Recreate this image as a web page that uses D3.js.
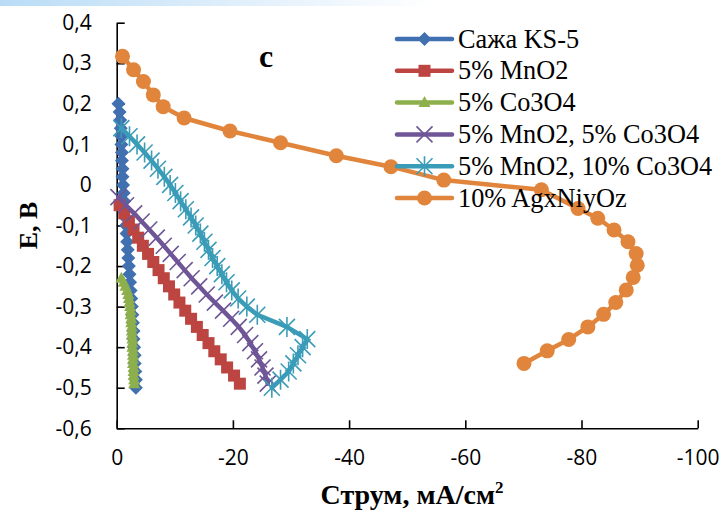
<!DOCTYPE html>
<html>
<head>
<meta charset="utf-8">
<script src="https://cdn.jsdelivr.net/npm/d3@7"></script>
<style>
  body { margin: 0; background: #fff; }
  svg { display: block; }
</style>
</head>
<body>
<div id="chart"></div>
<script>
// series values: current (mA/cm2) and potential (V)
const ks5I = [-0.3,-0.5,-0.6,-0.7,-0.8,-0.8,-0.9,-0.9,-1.0,-1.0,-1.1,-1.2,-1.3,-1.4,-1.5,-1.6,-1.7,-1.8,-1.9,-2.0,-2.1,-2.2,-2.3,-2.4,-2.5,-2.6,-2.7,-2.8,-2.9,-2.9,-3.0,-3.1,-3.1,-3.2,-3.3,-3.3];
const ks5E = [0.20,0.18,0.16,0.14,0.12,0.10,0.08,0.06,0.04,0.02,0.00,-0.02,-0.04,-0.06,-0.08,-0.10,-0.12,-0.14,-0.16,-0.18,-0.20,-0.22,-0.24,-0.26,-0.28,-0.30,-0.32,-0.34,-0.36,-0.38,-0.40,-0.42,-0.44,-0.46,-0.48,-0.50];

const mnI = [-0.5,-1.3,-2.1,-2.9,-3.7,-4.5,-5.4,-6.3,-7.2,-8.1,-9.0,-9.9,-10.8,-11.8,-12.8,-13.8,-14.8,-15.8,-16.8,-17.9,-19.0,-20.2,-21.2];
const mnE = [-0.05,-0.07,-0.09,-0.11,-0.13,-0.15,-0.17,-0.19,-0.21,-0.23,-0.25,-0.27,-0.29,-0.31,-0.33,-0.35,-0.37,-0.39,-0.41,-0.43,-0.45,-0.47,-0.49];

const coI = [-0.8,-1.2,-1.5,-1.8,-2.0,-2.1,-2.2,-2.3,-2.4,-2.4,-2.5,-2.5,-2.6,-2.6,-2.6,-2.7,-2.7,-2.7,-2.8,-2.8,-2.8,-2.8,-2.9,-2.9,-2.9,-3.0,-3.0];
const coE = [-0.23,-0.24,-0.25,-0.26,-0.27,-0.28,-0.29,-0.30,-0.31,-0.32,-0.33,-0.34,-0.35,-0.36,-0.37,-0.38,-0.39,-0.40,-0.41,-0.42,-0.43,-0.44,-0.45,-0.46,-0.47,-0.48,-0.49];

const mnCo5I = [-0.3,-1.6,-3.0,-4.3,-5.6,-6.9,-8.1,-9.3,-10.5,-11.7,-12.9,-14.2,-15.5,-16.9,-18.3,-19.7,-21.0,-22.1,-23.0,-23.8,-24.5,-25.1,-25.6,-26.0];
const mnCo5E = [-0.03,-0.05,-0.07,-0.09,-0.11,-0.13,-0.15,-0.17,-0.19,-0.21,-0.23,-0.25,-0.27,-0.29,-0.31,-0.33,-0.35,-0.37,-0.39,-0.41,-0.43,-0.45,-0.47,-0.49];

const mnCo10I = [-0.8,-2.2,-3.5,-4.8,-6.0,-7.1,-8.2,-9.2,-10.1,-11.0,-11.9,-12.8,-13.6,-14.4,-15.1,-15.8,-16.5,-17.3,-18.1,-18.9,-19.8,-20.9,-22.4,-24.2,-29.3,-32.8,-32.0,-31.2,-30.4,-29.6,-28.2,-26.7];
const mnCo10E = [0.14,0.12,0.10,0.08,0.06,0.04,0.02,0.00,-0.02,-0.04,-0.06,-0.08,-0.10,-0.12,-0.14,-0.16,-0.18,-0.20,-0.22,-0.24,-0.26,-0.28,-0.30,-0.32,-0.35,-0.38,-0.40,-0.42,-0.44,-0.46,-0.48,-0.50];

const agI = [-1.0,-2.9,-4.6,-6.3,-8.0,-11.6,-19.5,-28.2,-37.8,-47.2,-56.3,-73.1,-79.4,-82.8,-85.6,-88.0,-89.4,-89.6,-88.9,-87.7,-85.9,-83.8,-81.1,-77.8,-74.1,-70.1];
const agE = [0.317,0.284,0.255,0.222,0.193,0.165,0.133,0.104,0.072,0.045,0.012,-0.012,-0.058,-0.082,-0.111,-0.14,-0.169,-0.198,-0.228,-0.259,-0.29,-0.319,-0.35,-0.381,-0.409,-0.44];

const seriesNames = ["Сажа KS-5", "5% MnO2", "5% Co3O4", "5% MnO2, 5% Co3O4", "5% MnO2, 10% Co3O4", "10% AgxNiyOz"];
const xTicks = [0, -20, -40, -60, -80, -100];
const yTicks = [0.4, 0.3, 0.2, 0.1, 0, -0.1, -0.2, -0.3, -0.4, -0.5, -0.6];

const W = 725, H = 516;
const MARGIN = { LEFT: 116.7, RIGHT: 27.3, TOP: 22.7, BOTTOM: 87.7 };

const series = [
  { name: seriesNames[0], I: ks5I, E: ks5E, color: "#4170B0", marker: "diamond" },
  { name: seriesNames[1], I: mnI, E: mnE, color: "#BC4541", marker: "square" },
  { name: seriesNames[2], I: coI, E: coE, color: "#8DAF4C", marker: "triangle" },
  { name: seriesNames[3], I: mnCo5I, E: mnCo5E, color: "#6F5697", marker: "x" },
  { name: seriesNames[4], I: mnCo10I, E: mnCo10E, color: "#3B9CB8", marker: "star" },
  { name: seriesNames[5], I: agI, E: agE, color: "#E0853B", marker: "circle" }
];

const svg = d3.select("#chart").append("svg")
  .attr("width", W).attr("height", H);

svg.append("rect").attr("width", W).attr("height", H).attr("fill", "#fff");

// pale blue band at the very top
const grad = svg.append("defs").append("linearGradient").attr("id", "topband");
grad.append("stop").attr("offset", "0%").attr("stop-color", "#b9dcf6");
grad.append("stop").attr("offset", "45%").attr("stop-color", "#eef6fd");
grad.append("stop").attr("offset", "60%").attr("stop-color", "#ffffff");
svg.append("rect").attr("x", 0).attr("y", 0).attr("width", W).attr("height", 6)
  .attr("fill", "url(#topband)");

const x = d3.scaleLinear().domain([0, -100]).range([MARGIN.LEFT, W - MARGIN.RIGHT]);
const y = d3.scaleLinear().domain([-0.6, 0.4]).range([H - MARGIN.BOTTOM, MARGIN.TOP]);

const fmt = d => d === 0 ? "0" : (Number.isInteger(d) ? String(d) : d.toFixed(1).replace(".", ","));

// axes (ticks pointing inward)
const xAxis = d3.axisBottom(x).tickValues(xTicks).tickSizeInner(-8).tickSizeOuter(0)
  .tickPadding(22).tickFormat(fmt);
const yAxis = d3.axisLeft(y).tickValues(yTicks).tickSizeInner(-8).tickSizeOuter(0)
  .tickPadding(25).tickFormat(fmt);

const gx = svg.append("g").attr("transform", `translate(0,${H - MARGIN.BOTTOM})`).call(xAxis);
const gy = svg.append("g").attr("transform", `translate(${MARGIN.LEFT},0)`).call(yAxis);

[gx, gy].forEach(g => {
  g.selectAll("path, line").attr("stroke", "#000").attr("stroke-width", 1.6);
  g.selectAll("text").attr("font-family", "'Open Sans', sans-serif").attr("font-size", 21).attr("fill", "#000");
});

// marker drawing
function drawMarker(sel, type, color) {
  if (type === "diamond") {
    sel.append("path").attr("d", "M0,-7L7,0L0,7L-7,0Z").attr("fill", color);
  } else if (type === "square") {
    sel.append("rect").attr("x", -6).attr("y", -6).attr("width", 12).attr("height", 12).attr("fill", color);
  } else if (type === "triangle") {
    sel.append("path").attr("d", "M0,-6.5L6,4.5L-6,4.5Z").attr("fill", color);
  } else if (type === "circle") {
    sel.append("circle").attr("r", 7.5).attr("fill", color);
  } else if (type === "x") {
    sel.append("path").attr("d", "M-8,-8L8,8M-8,8L8,-8").attr("stroke", color).attr("stroke-width", 1.6).attr("fill", "none");
  } else if (type === "star") {
    sel.append("path").attr("d", "M-8,-8L8,8M-8,8L8,-8M0,-10L0,10").attr("stroke", color).attr("stroke-width", 1.6).attr("fill", "none");
  }
}

const line = d3.line().x(d => x(d[0])).y(d => y(d[1]));

series.forEach(s => {
  const pts = s.I.map((v, i) => [v, s.E[i]]);
  const g = svg.append("g");
  g.append("path").datum(pts).attr("d", line)
    .attr("fill", "none").attr("stroke", s.color).attr("stroke-width", 4.5)
    .attr("stroke-linejoin", "round").attr("stroke-linecap", "round");
  g.selectAll("g.m").data(pts).enter().append("g").attr("class", "m")
    .attr("transform", d => `translate(${x(d[0])},${y(d[1])})`)
    .each(function () { drawMarker(d3.select(this), s.marker, s.color); });
});

// title letter
svg.append("text").attr("x", 266).attr("y", 67).attr("text-anchor", "middle")
  .attr("font-family", "Liberation Serif, serif").attr("font-weight", "bold").attr("font-size", 32)
  .text("c");

// legend
const legend = svg.append("g").attr("transform", "translate(397,39)");
series.forEach((s, i) => {
  const row = legend.append("g").attr("transform", `translate(0,${i * 31.8})`);
  row.append("line").attr("x1", 0).attr("x2", 55).attr("y1", 0).attr("y2", 0)
    .attr("stroke", s.color).attr("stroke-width", 4.5).attr("stroke-linecap", "round");
  const m = row.append("g").attr("transform", "translate(27.5,0)");
  drawMarker(m, s.marker, s.color);
  row.append("text").attr("x", 61).attr("y", 0).attr("dy", "0.33em")
    .attr("font-family", "Liberation Serif, serif").attr("font-size", 26.3).attr("fill", "#000")
    .text(s.name);
});

// axis titles
svg.append("text")
  .attr("transform", `translate(28,${(MARGIN.TOP + H - MARGIN.BOTTOM) / 2}) rotate(-90)`)
  .attr("text-anchor", "middle").attr("dy", "0.35em")
  .attr("font-family", "Liberation Serif, serif").attr("font-weight", "bold").attr("font-size", 26)
  .text("E, B");

const xt = svg.append("text")
  .attr("x", 412).attr("y", 504).attr("text-anchor", "middle")
  .attr("font-family", "Liberation Serif, serif").attr("font-weight", "bold").attr("font-size", 28);
xt.append("tspan").text("Струм, мА/см");
xt.append("tspan").attr("dy", -11).attr("font-size", 17).text("2");
</script>
</body>
</html>
